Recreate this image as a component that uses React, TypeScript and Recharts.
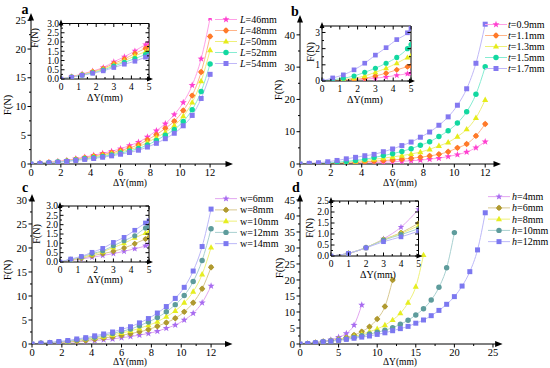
import React from 'react';
import { LineChart, Line, XAxis, YAxis, ReferenceDot, Legend } from 'recharts';

const FONT = '"Liberation Serif", "Times New Roman", serif';

// ---------- x values ----------
const X_STEP = [0, 0.6, 1.2, 1.8, 2.4, 3, 3.6, 4.2, 4.8, 5.4, 6, 6.6, 7.2, 7.8, 8.4, 9, 9.6, 10.2, 10.8, 11.4, 12];
const X_INT = [0, 1, 2, 3, 4, 5, 6, 7, 8, 9, 10, 11, 12, 13, 14, 15, 16, 17, 18, 19, 20, 21, 22, 23, 24];

// ---------- panel a (L) ----------
const L46 = [0, 0.13, 0.27, 0.43, 0.62, 0.93, 1.2, 1.52, 1.86, 2.2, 2.65, 3.2, 3.8, 4.7, 5.8, 7.0, 8.6, 10.7, 13.7, 18.3, 25.4];
const L48 = [0, 0.12, 0.25, 0.4, 0.57, 0.84, 1.08, 1.38, 1.65, 1.95, 2.35, 2.8, 3.35, 4.2, 5.1, 6.2, 7.45, 9.3, 11.9, 16.0, 22.2];
const L50 = [0, 0.11, 0.23, 0.37, 0.52, 0.76, 0.98, 1.25, 1.48, 1.75, 2.1, 2.5, 3.0, 3.75, 4.6, 5.5, 6.7, 8.3, 10.7, 14.4, 19.8];
const L52 = [0, 0.1, 0.21, 0.34, 0.48, 0.7, 0.9, 1.1, 1.32, 1.58, 1.9, 2.25, 2.7, 3.3, 4.1, 5.0, 6.0, 7.4, 9.45, 12.6, 17.4];
const L54 = [0, 0.1, 0.2, 0.31, 0.44, 0.62, 0.8, 0.96, 1.18, 1.42, 1.7, 2.0, 2.4, 2.95, 3.6, 4.4, 5.35, 6.65, 8.45, 11.4, 15.6];
const A_AT5 = [1.96, 1.73, 1.55, 1.38, 1.25];

// ---------- panel b (t) ----------
const T09 = [0, 0.02, 0.04, 0.07, 0.11, 0.17, 0.25, 0.35, 0.45, 0.55, 0.68, 0.82, 1.0, 1.2, 1.5, 1.8, 2.3, 2.9, 3.7, 5.05, 6.9];
const T11 = [0, 0.03, 0.06, 0.1, 0.17, 0.31, 0.48, 0.69, 0.88, 1.05, 1.25, 1.5, 1.8, 2.1, 2.5, 3.0, 3.8, 5.0, 6.2, 8.7, 12.4];
const T13 = [0, 0.05, 0.1, 0.17, 0.31, 0.54, 0.79, 1.1, 1.45, 1.8, 2.2, 2.6, 3.1, 3.7, 4.55, 5.6, 6.7, 8.5, 10.75, 14.3, 19.85];
const T15 = [0, 0.08, 0.17, 0.31, 0.54, 0.79, 1.1, 1.46, 2.0, 2.6, 3.2, 3.9, 4.75, 5.8, 6.9, 8.5, 10.3, 12.7, 16.2, 21.6, 30.1];
const T17 = [0, 0.19, 0.38, 0.69, 1.1, 1.6, 2.06, 2.56, 2.98, 3.8, 4.65, 5.7, 6.8, 8.3, 9.9, 12.0, 14.6, 18.2, 23.3, 31.2, 43.3];
const B_AT5 = [0.48, 0.93, 1.57, 2.25, 3.25];

// ---------- panel c (w) ----------
const W06 = [0, 0.08, 0.16, 0.25, 0.35, 0.45, 0.57, 0.71, 0.87, 1.05, 1.3, 1.55, 1.85, 2.2, 2.65, 3.3, 3.95, 5.0, 6.4, 8.6, 12.1];
const W08 = [0, 0.1, 0.2, 0.33, 0.45, 0.57, 0.75, 0.98, 1.23, 1.5, 1.8, 2.15, 2.55, 3.0, 3.7, 4.45, 5.35, 6.7, 8.6, 11.5, 16.0];
const W10 = [0, 0.12, 0.24, 0.4, 0.55, 0.78, 1.0, 1.29, 1.55, 1.9, 2.3, 2.7, 3.25, 3.9, 4.65, 5.7, 6.9, 8.6, 10.9, 14.5, 20.1];
const W12 = [0, 0.14, 0.27, 0.45, 0.6, 0.87, 1.14, 1.41, 1.82, 2.2, 2.65, 3.1, 3.8, 4.6, 5.5, 6.7, 8.2, 10.1, 13.0, 17.4, 24.0];
const W14 = [0, 0.16, 0.3, 0.52, 0.73, 1.05, 1.32, 1.7, 2.09, 2.5, 3.05, 3.6, 4.4, 5.3, 6.45, 7.8, 9.5, 11.8, 15.2, 20.3, 28.1];
const C_AT5 = [0.96, 1.32, 1.64, 1.91, 2.21];

// ---------- panel d (h) ----------
const H04 = [0, 0.12, 0.38, 0.78, 1.31, 2.12, 3.3, 5.9, 12.2];
const H06 = [0, 0.12, 0.38, 0.75, 1.06, 1.49, 2.0, 2.8, 3.85, 5.4, 7.8, 11.7, 20.0];
const H08 = [0, 0.12, 0.38, 0.74, 1.02, 1.38, 1.8, 2.35, 3.0, 3.85, 4.7, 5.9, 7.5, 9.6, 12.9, 17.9, 27.8];
const H10 = [0, 0.12, 0.38, 0.72, 0.97, 1.24, 1.6, 2.05, 2.55, 3.1, 3.65, 4.3, 5.1, 6.15, 7.4, 9.06, 11.0, 13.75, 17.7, 23.8, 34.8];
const H12 = [0, 0.12, 0.37, 0.65, 0.87, 1.13, 1.45, 1.8, 2.15, 2.5, 3.0, 3.5, 4.15, 4.8, 5.5, 6.5, 7.5, 8.85, 10.5, 12.4, 14.8, 18.1, 22.6, 29.4, 41.0];

// ---------- tick values ----------
const X_TICKS_12 = [0, 1, 2, 3, 4, 5, 6, 7, 8, 9, 10, 11, 12];
const X_LAB_12 = [0, 2, 4, 6, 8, 10, 12];
const X_TICKS_25 = [0, 2.5, 5, 7.5, 10, 12.5, 15, 17.5, 20, 22.5, 25];
const X_LAB_25 = [0, 5, 10, 15, 20, 25];
const Y_TICKS_A = [0, 2.5, 5, 7.5, 10, 12.5, 15, 17.5, 20, 22.5, 25];
const Y_LAB_A = [0, 5, 10, 15, 20, 25];
const Y_TICKS_B = [0, 5, 10, 15, 20, 25, 30, 35, 40];
const Y_LAB_B = [0, 10, 20, 30, 40];
const Y_TICKS_C = [0, 2.5, 5, 7.5, 10, 12.5, 15, 17.5, 20, 22.5, 25, 27.5, 30];
const Y_LAB_C = [0, 5, 10, 15, 20, 25, 30];
const Y_TICKS_D = [0, 2.5, 5, 7.5, 10, 12.5, 15, 17.5, 20, 22.5, 25, 27.5, 30, 32.5, 35, 37.5, 40, 42.5, 45];
const Y_LAB_D = [0, 5, 10, 15, 20, 25, 30, 35, 40, 45];
const IX_TICKS = [0, 0.5, 1, 1.5, 2, 2.5, 3, 3.5, 4, 4.5, 5];
const IX_LAB = [0, 1, 2, 3, 4, 5];
const IY_TICKS_3 = [0, 0.25, 0.5, 0.75, 1, 1.25, 1.5, 1.75, 2, 2.25, 2.5, 2.75, 3];
const IY_LAB_3 = [0, 0.5, 1, 1.5, 2, 2.5, 3];
const IY_TICKS_B = [0, 0.5, 1, 1.5, 2, 2.5, 3];
const IY_LAB_B = [0, 1, 2, 3];
const IY_TICKS_D = [0, 0.25, 0.5, 0.75, 1, 1.25, 1.5, 1.75, 2, 2.25, 2.5];
const IY_LAB_D = [0, 0.5, 1, 1.5, 2, 2.5];

// ---------- styles ----------
const STYLE_AB = [
  { fill: '#ff40d0', line: '#ffa0e6', shape: 'star' },
  { fill: '#ff7a2a', line: '#ffb488', shape: 'blob' },
  { fill: '#e6ec1a', line: '#eef07a', shape: 'triangle' },
  { fill: '#12d8a0', line: '#86ecd2', shape: 'circle' },
  { fill: '#8478f0', line: '#c0b8f8', shape: 'square' },
];
const STYLE_CD = [
  { fill: '#a86cf0', line: '#e2a6f0', shape: 'star' },
  { fill: '#b09a30', line: '#d8c890', shape: 'blob' },
  { fill: '#e6ee20', line: '#eef07a', shape: 'triangle' },
  { fill: '#5e9c9c', line: '#a8d0d0', shape: 'circle' },
  { fill: '#7c78f0', line: '#bcb8f8', shape: 'square' },
];

type S = { key: string; v: string; rest: string; italic: boolean; values: number[]; at5?: number; fill: string; line: string; shape: string };

const mkSeries = (keys: string[], v: string, rests: string[], italic: boolean, vals: number[][], at5: number[] | null, styles: any[]): S[] =>
  keys.map((k, i) => ({ key: k, v, rest: rests[i], italic, values: vals[i], at5: at5 ? at5[i] : undefined, ...styles[i] }));

const A_SERIES = mkSeries(['L46', 'L48', 'L50', 'L52', 'L54'], 'L', ['=46mm', '=48mm', '=50mm', '=52mm', '=54mm'], true, [L46, L48, L50, L52, L54], A_AT5, STYLE_AB);
const B_SERIES = mkSeries(['T09', 'T11', 'T13', 'T15', 'T17'], 't', ['=0.9mm', '=1.1mm', '=1.3mm', '=1.5mm', '=1.7mm'], true, [T09, T11, T13, T15, T17], B_AT5, STYLE_AB);
const C_SERIES = mkSeries(['W06', 'W08', 'W10', 'W12', 'W14'], 'w', ['=6mm', '=8mm', '=10mm', '=12mm', '=14mm'], false, [W06, W08, W10, W12, W14], C_AT5, STYLE_CD);
const D_SERIES = mkSeries(['H04', 'H06', 'H08', 'H10', 'H12'], 'h', ['=4mm', '=6mm', '=8mm', '=10mm', '=12mm'], true, [H04, H06, H08, H10, H12], null, STYLE_CD);

function mainTable(xs: number[], series: S[]) {
  return xs.map((x, i) => {
    const r: any = { x };
    series.forEach((s) => {
      if (i < s.values.length) r[s.key] = s.values[i];
    });
    return r;
  });
}
function insetTable(xs: number[], series: S[]) {
  const rows = mainTable(xs, series).filter((r) => r.x <= 5.0001);
  if (series[0].at5 !== undefined && rows[rows.length - 1].x < 5) {
    const r: any = { x: 5 };
    series.forEach((s) => (r[s.key] = s.at5));
    rows.push(r);
  }
  return rows;
}

// ---------- markers ----------
function Marker({ shape, cx, cy, fill, s }: any) {
  if (shape === 'circle') return <circle cx={cx} cy={cy} r={s * 0.85} fill={fill} />;
  if (shape === 'square') return <rect x={cx - s * 0.78} y={cy - s * 0.78} width={s * 1.56} height={s * 1.56} fill={fill} />;
  if (shape === 'triangle')
    return <polygon points={`${cx},${cy - s * 1.05} ${cx + s * 0.95},${cy + s * 0.65} ${cx - s * 0.95},${cy + s * 0.65}`} fill={fill} />;
  if (shape === 'blob')
    return (
      <g>
        <circle cx={cx} cy={cy} r={s * 0.72} fill={fill} />
        <polygon points={`${cx},${cy - s} ${cx + s},${cy} ${cx},${cy + s} ${cx - s},${cy}`} fill={fill} />
      </g>
    );
  const pts: string[] = [];
  for (let i = 0; i < 10; i++) {
    const r = i % 2 === 0 ? s * 1.15 : s * 0.48;
    const a = -Math.PI / 2 + (i * Math.PI) / 5;
    pts.push(`${cx + r * Math.cos(a)},${cy + r * Math.sin(a)}`);
  }
  return <polygon points={pts.join(' ')} fill={fill} />;
}

const dotFn = (shape: string, fill: string, size: number) => (p: any) => {
  const k = `m${p.index}`;
  if (p.cx == null || p.cy == null || p.value == null || Number.isNaN(p.cy)) return <g key={k} />;
  return <Marker key={k} shape={shape} cx={p.cx} cy={p.cy} fill={fill} s={size} />;
};

const has = (arr: number[], v: number) => arr.some((a) => Math.abs(a - v) < 1e-6);

// ---------- ticks ----------
const xTick = (lab: number[], dec: number, fs: number, inward: boolean) => (p: any) => {
  const { x, y, payload } = p;
  const major = has(lab, payload.value);
  const len = major ? 3.5 : 2;
  const y2 = inward ? y - len : y + len;
  return (
    <g>
      <line x1={x} x2={x} y1={y} y2={y2} stroke="#000" strokeWidth={1} />
      {major && (
        <text x={x} y={y + (inward ? 10.5 : 12)} textAnchor="middle" fontSize={fs} fontFamily={FONT} fill="#000">
          {payload.value.toFixed(dec)}
        </text>
      )}
    </g>
  );
};
const xTickTop = (lab: number[]) => (p: any) => {
  const { x, y, payload } = p;
  const len = has(lab, payload.value) ? 3.5 : 2;
  return <line x1={x} x2={x} y1={y} y2={y + len} stroke="#000" strokeWidth={1} />;
};
const yTick = (lab: number[], dec: number, fs: number, inward: boolean) => (p: any) => {
  const { x, y, payload } = p;
  const major = has(lab, payload.value);
  const len = major ? 3.5 : 2;
  const x2 = inward ? x + len : x - len;
  return (
    <g>
      <line x1={x} x2={x2} y1={y} y2={y} stroke="#000" strokeWidth={1} />
      {major && (
        <text x={x - (inward ? 2 : 5)} y={y + fs * 0.35} textAnchor="end" fontSize={fs} fontFamily={FONT} fill="#000">
          {payload.value.toFixed(dec)}
        </text>
      )}
    </g>
  );
};
const yTickRight = (lab: number[]) => (p: any) => {
  const { x, y, payload } = p;
  const len = has(lab, payload.value) ? 3.5 : 2;
  return <line x1={x} x2={x - len} y1={y} y2={y} stroke="#000" strokeWidth={1} />;
};

const arrowRight = (sz: number) => (p: any) => (
  <polygon points={`${p.cx + sz},${p.cy} ${p.cx - sz * 0.5},${p.cy - sz * 0.6} ${p.cx - sz * 0.5},${p.cy + sz * 0.6}`} fill="#000" />
);
const arrowUp = (sz: number) => (p: any) => (
  <polygon points={`${p.cx},${p.cy - sz} ${p.cx - sz * 0.6},${p.cy + sz * 0.5} ${p.cx + sz * 0.6},${p.cy + sz * 0.5}`} fill="#000" />
);

// axis box sizes (reserved by recharts); margins are reduced accordingly
const AX = { left: 20, bottom: 16, top: 4, right: 4 };

function marginOf(box: number[], plot: number[], withTopRight: boolean) {
  return {
    left: plot[0] - box[0] - AX.left,
    right: box[0] + box[2] - plot[1] - (withTopRight ? AX.right : 0),
    top: plot[2] - box[1] - (withTopRight ? AX.top : 0),
    bottom: box[1] + box[3] - plot[3] - AX.bottom,
  };
}

const legendContent = (series: S[], row: number, textX: number) => () => (
  <svg width={110} height={row * series.length + 4} style={{ display: 'block', overflow: 'visible' }}>
    {series.map((s, i) => {
      const cy = row * i + row / 2;
      return (
        <g key={s.key}>
          <line x1={0} x2={22} y1={cy} y2={cy} stroke={s.line} strokeWidth={1} />
          <Marker shape={s.shape} cx={11} cy={cy} fill={s.fill} s={3.2} />
          <text x={textX} y={cy + 3.5} fontSize={10} fontFamily={FONT} fill="#000">
            <tspan fontStyle={s.italic ? 'italic' : 'normal'}>{s.v}</tspan>
            {s.rest}
          </text>
        </g>
      );
    })}
  </svg>
);

const PANELS = [
  {
    id: 'a', letter: [25, 10], series: A_SERIES, xs: X_STEP,
    main: { box: [0, 0, 275, 184], plot: [31, 228, 18, 164], xMax: 13.2, yMax: 25.4, xT: X_TICKS_12, xL: X_LAB_12, yT: Y_TICKS_A, yL: Y_LAB_A },
    inset: { box: [20, 10, 140, 92], plot: [61, 149, 23.5, 79], yMax: 3, yT: IY_TICKS_3, yL: IY_LAB_3, dec: 1 },
    legend: [215, 13.5, 11, 25],
    titles: { fy: [8, 105], dx: [130, 184], ify: [35, 38], idx: [105, 97.5] },
  },
  {
    id: 'b', letter: [295, 12], series: B_SERIES, xs: X_STEP,
    main: { box: [275, 0, 275, 184], plot: [300, 496, 20, 164], xMax: 12.7, yMax: 44.6, xT: X_TICKS_12, xL: X_LAB_12, yT: Y_TICKS_B, yL: Y_LAB_B },
    inset: { box: [285, 12, 140, 92], plot: [322, 411, 26, 81], yMax: 3.4, yT: IY_TICKS_B, yL: IY_LAB_B, dec: 0 },
    legend: [485, 18.5, 11, 23],
    titles: { fy: [279, 90], dx: [400, 184], ify: [311, 52], idx: [365, 100] },
  },
  {
    id: 'c', letter: [25, 188], series: C_SERIES, xs: X_STEP,
    main: { box: [0, 184, 275, 184], plot: [32, 227.5, 199, 344], xMax: 13.1, yMax: 30.2, xT: X_TICKS_12, xL: X_LAB_12, yT: Y_TICKS_C, yL: Y_LAB_C },
    inset: { box: [20, 192, 140, 95], plot: [60, 149, 206, 262], yMax: 3, yT: IY_TICKS_3, yL: IY_LAB_3, dec: 1 },
    legend: [215, 192.7, 11.25, 25],
    titles: { fy: [8, 270], dx: [130, 363.3], ify: [37, 234], idx: [105, 280] },
  },
  {
    id: 'd', letter: [296, 188], series: D_SERIES, xs: X_INT,
    main: { box: [275, 184, 275, 184], plot: [300, 497.6, 199, 344], xMax: 25.6, yMax: 45.3, xT: X_TICKS_25, xL: X_LAB_25, yT: Y_TICKS_D, yL: Y_LAB_D },
    inset: { box: [290, 188, 140, 95], plot: [331, 418.5, 201, 256], yMax: 2.5, yT: IY_TICKS_D, yL: IY_LAB_D, dec: 1 },
    legend: [488, 191, 11.25, 24],
    titles: { fy: [280, 268], dx: [400, 363.3], ify: [310, 228], idx: [378, 275] },
  },
];

const abs = (x: number, y: number, extra: any = {}) => ({ position: 'absolute' as const, left: x, top: y, ...extra });
const textStyle = (fs: number) => ({ fontFamily: FONT, fontSize: fs, color: '#000', whiteSpace: 'nowrap' as const, lineHeight: 1 });
const AXLINE = { stroke: '#000', strokeWidth: 1 };

function Panel({ cfg }: { cfg: any }) {
  const m = cfg.main;
  const ins = cfg.inset;
  const mainData = mainTable(cfg.xs, cfg.series);
  const insData = insetTable(cfg.xs, cfg.series);
  const mm = marginOf(m.box, m.plot, false);
  const im = marginOf(ins.box, ins.plot, true);
  const [lx, ly, row, tx] = cfg.legend;
  return (
    <>
      <div style={abs(m.box[0], m.box[1])}>
        <LineChart width={m.box[2]} height={m.box[3]} margin={mm} data={mainData}>
          <XAxis dataKey="x" type="number" domain={[0, m.xMax]} allowDataOverflow ticks={m.xT} interval={0} height={AX.bottom}
            tickSize={0} tickMargin={0} tickLine={false} axisLine={AXLINE} tick={xTick(m.xL, 0, 10.5, false)} />
          <YAxis type="number" domain={[0, m.yMax]} allowDataOverflow ticks={m.yT} interval={0} width={AX.left}
            tickSize={0} tickMargin={0} tickLine={false} axisLine={AXLINE} tick={yTick(m.yL, 0, 10.5, false)} />
          {cfg.series.map((s: S) => (
            <Line key={s.key} dataKey={s.key} type="monotone" stroke={s.line} strokeWidth={1} dot={dotFn(s.shape, s.fill, 3.2)}
              activeDot={false} isAnimationActive={false} connectNulls={false} />
          ))}
          <ReferenceDot x={m.xMax} y={0} r={0} ifOverflow="visible" shape={arrowRight(5)} />
          <ReferenceDot x={0} y={m.yMax} r={0} ifOverflow="visible" shape={arrowUp(5)} />
          <Legend layout="vertical" align="center" verticalAlign="middle" content={legendContent(cfg.series, row, tx)}
            wrapperStyle={{ left: lx - m.box[0], top: ly - m.box[1], width: 110, height: row * 5 + 4 }} />
        </LineChart>
      </div>
      <div style={abs(ins.box[0], ins.box[1])}>
        <LineChart width={ins.box[2]} height={ins.box[3]} margin={im} data={insData}>
          <XAxis dataKey="x" type="number" domain={[0, 5]} allowDataOverflow ticks={IX_TICKS} interval={0} height={AX.bottom}
            tickSize={0} tickMargin={0} tickLine={false} axisLine={AXLINE} tick={xTick(IX_LAB, 0, 9.5, true)} />
          <XAxis xAxisId="top" orientation="top" dataKey="x" type="number" domain={[0, 5]} allowDataOverflow ticks={IX_TICKS} interval={0} height={AX.top}
            tickSize={0} tickMargin={0} tickLine={false} axisLine={AXLINE} tick={xTickTop(IX_LAB)} />
          <YAxis type="number" domain={[0, ins.yMax]} allowDataOverflow ticks={ins.yT} interval={0} width={AX.left}
            tickSize={0} tickMargin={0} tickLine={false} axisLine={AXLINE} tick={yTick(ins.yL, ins.dec, 9.5, true)} />
          <YAxis yAxisId="r" orientation="right" type="number" domain={[0, ins.yMax]} allowDataOverflow ticks={ins.yT} interval={0} width={AX.right}
            tickSize={0} tickMargin={0} tickLine={false} axisLine={AXLINE} tick={yTickRight(ins.yL)} />
          {cfg.series.map((s: S) => (
            <Line key={s.key} dataKey={s.key} type="monotone" stroke={s.line} strokeWidth={1} dot={dotFn(s.shape, s.fill, 3)}
              activeDot={false} isAnimationActive={false} connectNulls={false} />
          ))}
          <ReferenceDot x={5} y={0} r={0} ifOverflow="visible" shape={arrowRight(4)} />
          <ReferenceDot x={0} y={ins.yMax} r={0} ifOverflow="visible" shape={arrowUp(4)} />
        </LineChart>
      </div>
      <div style={abs(cfg.letter[0], cfg.letter[1], { ...textStyle(14), fontWeight: 'bold', transform: 'translate(-50%,-50%)' })}>{cfg.id}</div>
      <div style={abs(cfg.titles.fy[0], cfg.titles.fy[1], { ...textStyle(10.5), transform: 'translate(-50%,-50%) rotate(-90deg)' })}>F(N)</div>
      <div style={abs(cfg.titles.dx[0], cfg.titles.dx[1], { ...textStyle(9.5), transform: 'translate(-50%,-50%)' })}>ΔY(mm)</div>
      <div style={abs(cfg.titles.ify[0], cfg.titles.ify[1], { ...textStyle(10), transform: 'translate(-50%,-50%) rotate(-90deg)' })}>F(N)</div>
      <div style={abs(cfg.titles.idx[0], cfg.titles.idx[1], { ...textStyle(10), transform: 'translate(-50%,-50%)' })}>ΔY(mm)</div>
    </>
  );
}

export default function App() {
  return (
    <div style={{ position: 'absolute', left: 0, top: 0, width: 550, height: 368, background: '#fff', overflow: 'hidden' }}>
      {PANELS.map((p) => (
        <Panel key={p.id} cfg={p} />
      ))}
    </div>
  );
}
